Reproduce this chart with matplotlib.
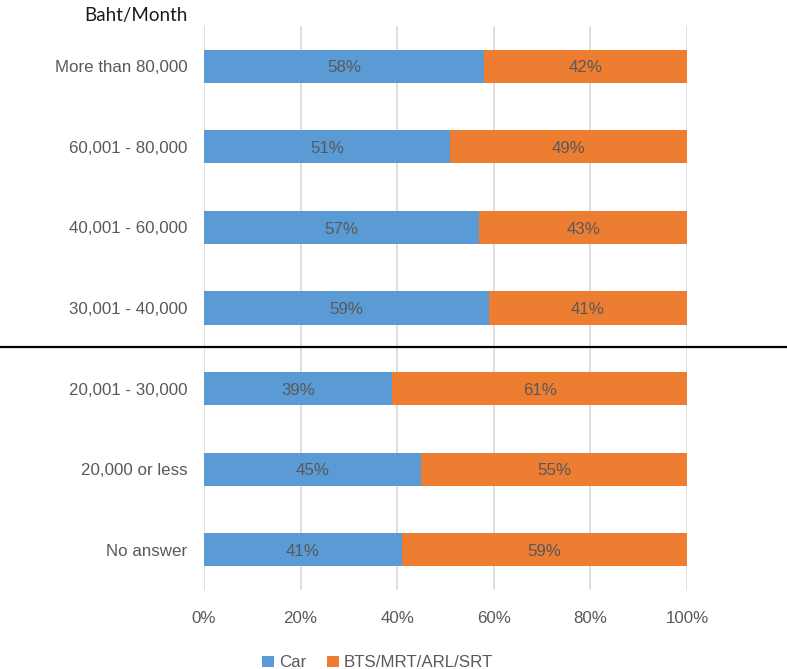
import numpy as np
import matplotlib.pyplot as plt
from matplotlib.lines import Line2D

# data
categories = ['More than 80,000', '60,001 - 80,000', '40,001 - 60,000', '30,001 - 40,000',
              '20,001 - 30,000', '20,000 or less', 'No answer']
car = [58, 51, 57, 59, 39, 45, 41]
rail = [42, 49, 43, 41, 61, 55, 59]
series_names = ['Car', 'BTS/MRT/ARL/SRT']
colors = ['#5B9BD5', '#ED7D31']

plt.rcParams['font.family'] = ['Liberation Sans Narrow', 'Liberation Sans', 'DejaVu Sans']
txt = '#595959'
fs = 12.2

fig = plt.figure(figsize=(7.87, 6.69), dpi=100)
ax = fig.add_axes([204/787, 1-590/669, 483/787, 564/669])

y = np.arange(len(categories))
ax.barh(y, car, height=0.41, color=colors[0], label=series_names[0], zorder=2)
ax.barh(y, rail, left=car, height=0.41, color=colors[1], label=series_names[1], zorder=2)

for yi, c, r in zip(y, car, rail):
    ax.text(c/2, yi + 0.02, f'{c}%', ha='center', va='center', fontsize=fs, color=txt, zorder=3)
    ax.text(c + r/2, yi + 0.02, f'{r}%', ha='center', va='center', fontsize=fs, color=txt, zorder=3)

ax.set_xlim(0, 100)
ax.set_ylim(len(categories) - 0.5, -0.5)
ax.set_xticks(range(0, 101, 20))
ax.set_xticklabels([f'{v}%' for v in range(0, 101, 20)])
ax.set_yticks(y)
ax.set_yticklabels(categories)
ax.tick_params(axis='x', length=0, pad=15, labelsize=fs, labelcolor=txt)
ax.tick_params(axis='y', length=0, pad=12, labelsize=fs, labelcolor=txt)
ax.grid(axis='x', color='#D9D9D9', linewidth=1.2, zorder=0)
for s in ax.spines.values():
    s.set_visible(False)

# separator between the two income groups
sep = 1 - 347/669
fig.add_artist(Line2D([0, 1], [sep, sep], transform=fig.transFigure, color='black', linewidth=1.6))

fig.text(188/787, 1-15/669, 'Baht/Month', ha='right', va='center', fontsize=13.5,
         family=['Lato', 'DejaVu Sans'], color='#1a1a1a')

fig.legend(loc='lower center', bbox_to_anchor=(0.48, -0.025), ncol=2, frameon=False,
           fontsize=fs, labelcolor=txt, handlelength=0.7, handleheight=0.7,
           handletextpad=0.3, columnspacing=1.2)

fig.savefig('out.png', dpi=100)
